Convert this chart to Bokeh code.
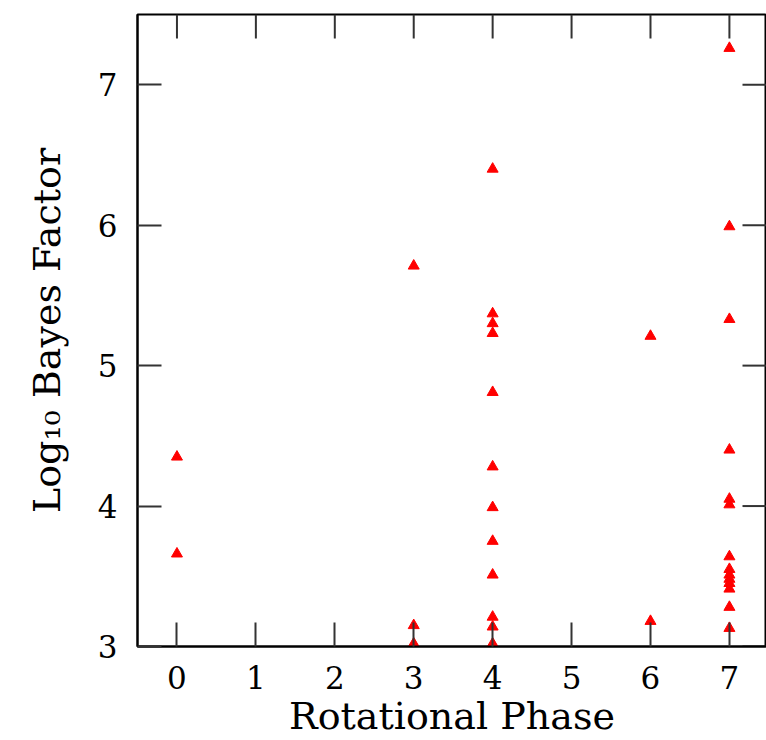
import math
from bokeh.plotting import figure
from bokeh.models import FixedTicker, Range1d
from bokeh.embed import file_html
from bokeh.resources import INLINE

# ---- data ----
phase_0 = [0, 0]
bf_0 = [4.35, 3.66]
phase_3 = [3, 3, 3]
bf_3 = [5.71, 3.15, 3.02]
phase_4 = [4] * 12
bf_4 = [6.40, 5.37, 5.30, 5.23, 4.81, 4.28, 3.99, 3.75, 3.51, 3.21, 3.14, 3.02]
phase_6 = [6, 6]
bf_6 = [5.21, 3.18]
phase_7 = [7] * 14
bf_7 = [7.26, 5.99, 5.33, 4.40, 4.05, 4.01, 3.64, 3.55, 3.51, 3.48, 3.45, 3.41, 3.28, 3.13]

phase = phase_0 + phase_3 + phase_4 + phase_6 + phase_7
log_bf = bf_0 + bf_3 + bf_4 + bf_6 + bf_7

x_ticks = [0, 1, 2, 3, 4, 5, 6, 7]
y_ticks = [3, 4, 5, 6, 7]

X_START, X_END = -0.5, 7.47
Y_START, Y_END = 3.0, 7.5

SERIF = "DejaVu Serif"
TICK_COLOR = "#333333"

p = figure(width=766, height=740, output_backend="svg", toolbar_location=None,
           x_range=Range1d(X_START, X_END), y_range=Range1d(Y_START, Y_END),
           min_border_left=137, min_border_right=0, min_border_top=14,
           min_border_bottom=94, x_axis_label="Rotational Phase",
           y_axis_label="Log\u2081\u2080 Bayes Factor")
p.background_fill_color = "white"
p.border_fill_color = "white"
p.outline_line_color = "black"
p.outline_line_width = 2
p.xgrid.visible = False
p.ygrid.visible = False

for ax, ticks in ((p.xaxis[0], x_ticks), (p.yaxis[0], y_ticks)):
    ax.ticker = FixedTicker(ticks=ticks)
    ax.minor_tick_line_color = None
    ax.major_tick_in = 24
    ax.major_tick_out = 0
    ax.major_tick_line_color = TICK_COLOR
    ax.major_tick_line_width = 2
    ax.axis_line_color = "black"
    ax.axis_line_width = 2
    ax.major_label_text_font = SERIF
    ax.major_label_text_font_size = "31px"
    ax.major_label_text_color = "black"
    ax.axis_label_text_font = SERIF
    ax.axis_label_text_font_size = "38px"
    ax.axis_label_text_font_style = "normal"
    ax.axis_label_text_color = "black"

p.xaxis[0].major_label_standoff = 19
p.xaxis[0].axis_label_standoff = 2
p.yaxis[0].major_label_standoff = 20
p.yaxis[0].axis_label_standoff = 26

# inward ticks on the top and right edges of the frame
p.ray(x=x_ticks, y=[Y_END] * len(x_ticks), length=24, length_units="screen",
      angle=-math.pi / 2, line_color=TICK_COLOR, line_width=2)
p.ray(x=[X_END] * len(y_ticks), y=y_ticks, length=24, length_units="screen",
      angle=math.pi, line_color=TICK_COLOR, line_width=2)

p.scatter(phase, log_bf, marker="triangle", size=11,
          fill_color="#ff0000", line_color="#ff0000")

open("out.html", "w").write(file_html(p, INLINE))
